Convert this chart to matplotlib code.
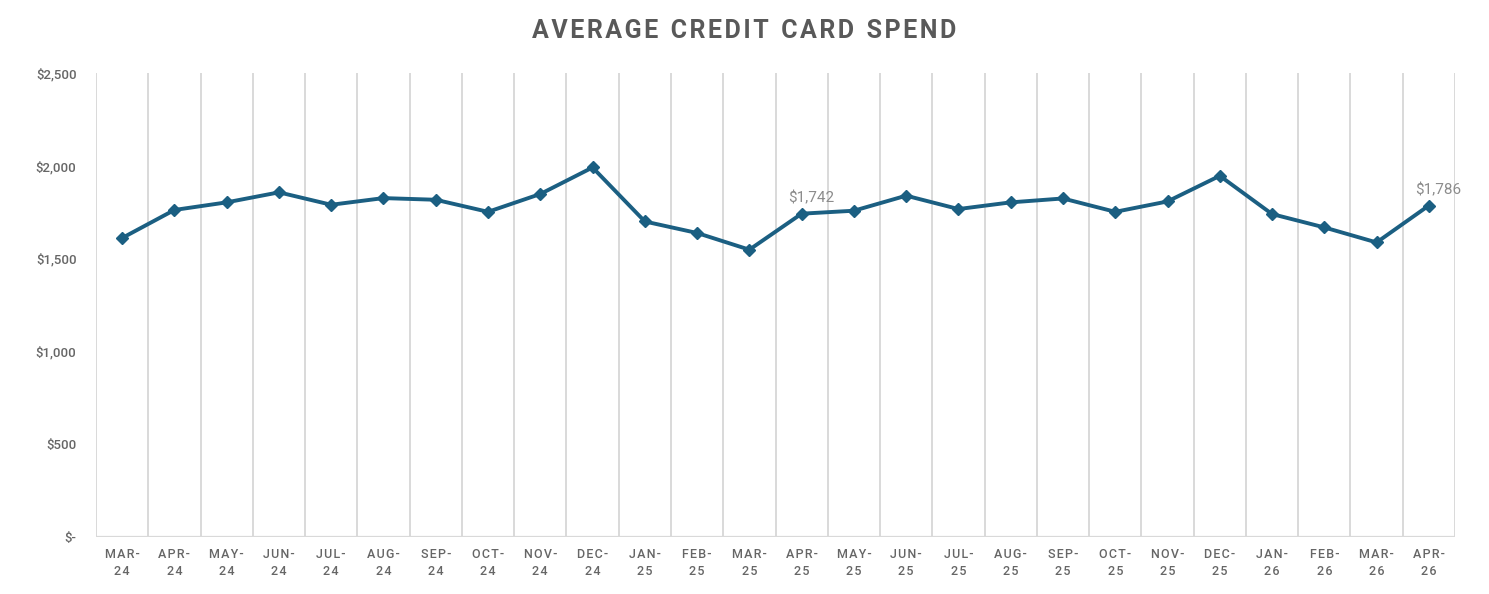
import matplotlib
matplotlib.use("Agg")
import matplotlib.pyplot as plt

months = ["MAR", "APR", "MAY", "JUN", "JUL", "AUG", "SEP", "OCT", "NOV", "DEC", "JAN", "FEB",
          "MAR", "APR", "MAY", "JUN", "JUL", "AUG", "SEP", "OCT", "NOV", "DEC", "JAN", "FEB",
          "MAR", "APR"]
years = ["24"] * 10 + ["25"] * 12 + ["26"] * 4
spend = [1611, 1762, 1803, 1857, 1790, 1826, 1817, 1752, 1848, 1991, 1700, 1638, 1548,
         1742, 1758, 1839, 1767, 1803, 1824, 1752, 1808, 1946, 1740, 1668, 1587, 1786]
labeled_idx = [13, 25]
yticks = [0, 500, 1000, 1500, 2000, 2500]
ytick_labels = ["$-", "$500", "$1,000", "$1,500", "$2,000", "$2,500"]
title = "AVERAGE CREDIT CARD SPEND"

plt.rcParams['font.family'] = ['Roboto', 'DejaVu Sans']

fig = plt.figure(figsize=(14.89, 5.94), dpi=100)
ax = fig.add_axes([96 / 1489, 1 - 537 / 594, (1455 - 96) / 1489, (537 - 73) / 594])

n = len(spend)
x = list(range(n))
line_color = "#1b5f82"
ax.plot(x, spend, color=line_color, lw=2.8, marker="D", markersize=6.5, zorder=3)

for i in labeled_idx:
    ax.annotate(f"${spend[i]:,}", (x[i], spend[i]), xytext=(7, 6), textcoords="offset points",
                ha="center", va="bottom", fontsize=11, color="#8c8c8c")

ax.set_xlim(-0.5, n - 0.5)
ax.set_ylim(0, 2500)

grid_c = "#d9d9d9"
for b in range(n + 1):
    ax.axvline(b - 0.5, color=grid_c, lw=1.4, zorder=1)
ax.axhline(0, color=grid_c, lw=1.6, zorder=1)

for s in ax.spines.values():
    s.set_visible(False)

ax.set_yticks(yticks)
ax.set_yticklabels(ytick_labels, fontsize=9.5, color="#666666", fontweight="medium")
ax.tick_params(axis="y", length=0, pad=14)


def spaced(s):
    return "\u200a".join(s)


ax.set_xticks(x)
ax.set_xticklabels([spaced(m + "-") + "\n" + spaced(y) for m, y in zip(months, years)],
                   fontsize=9, color="#666666", linespacing=1.35, fontweight="medium")
ax.tick_params(axis="x", length=0, pad=8)

fig.text(0.5, 1 - 31 / 594, spaced(title).replace("\u200a \u200a", "  "),
         ha="center", va="center", fontsize=18, fontweight="bold", color="#595959")

fig.savefig("out.png", dpi=100, facecolor="white")
